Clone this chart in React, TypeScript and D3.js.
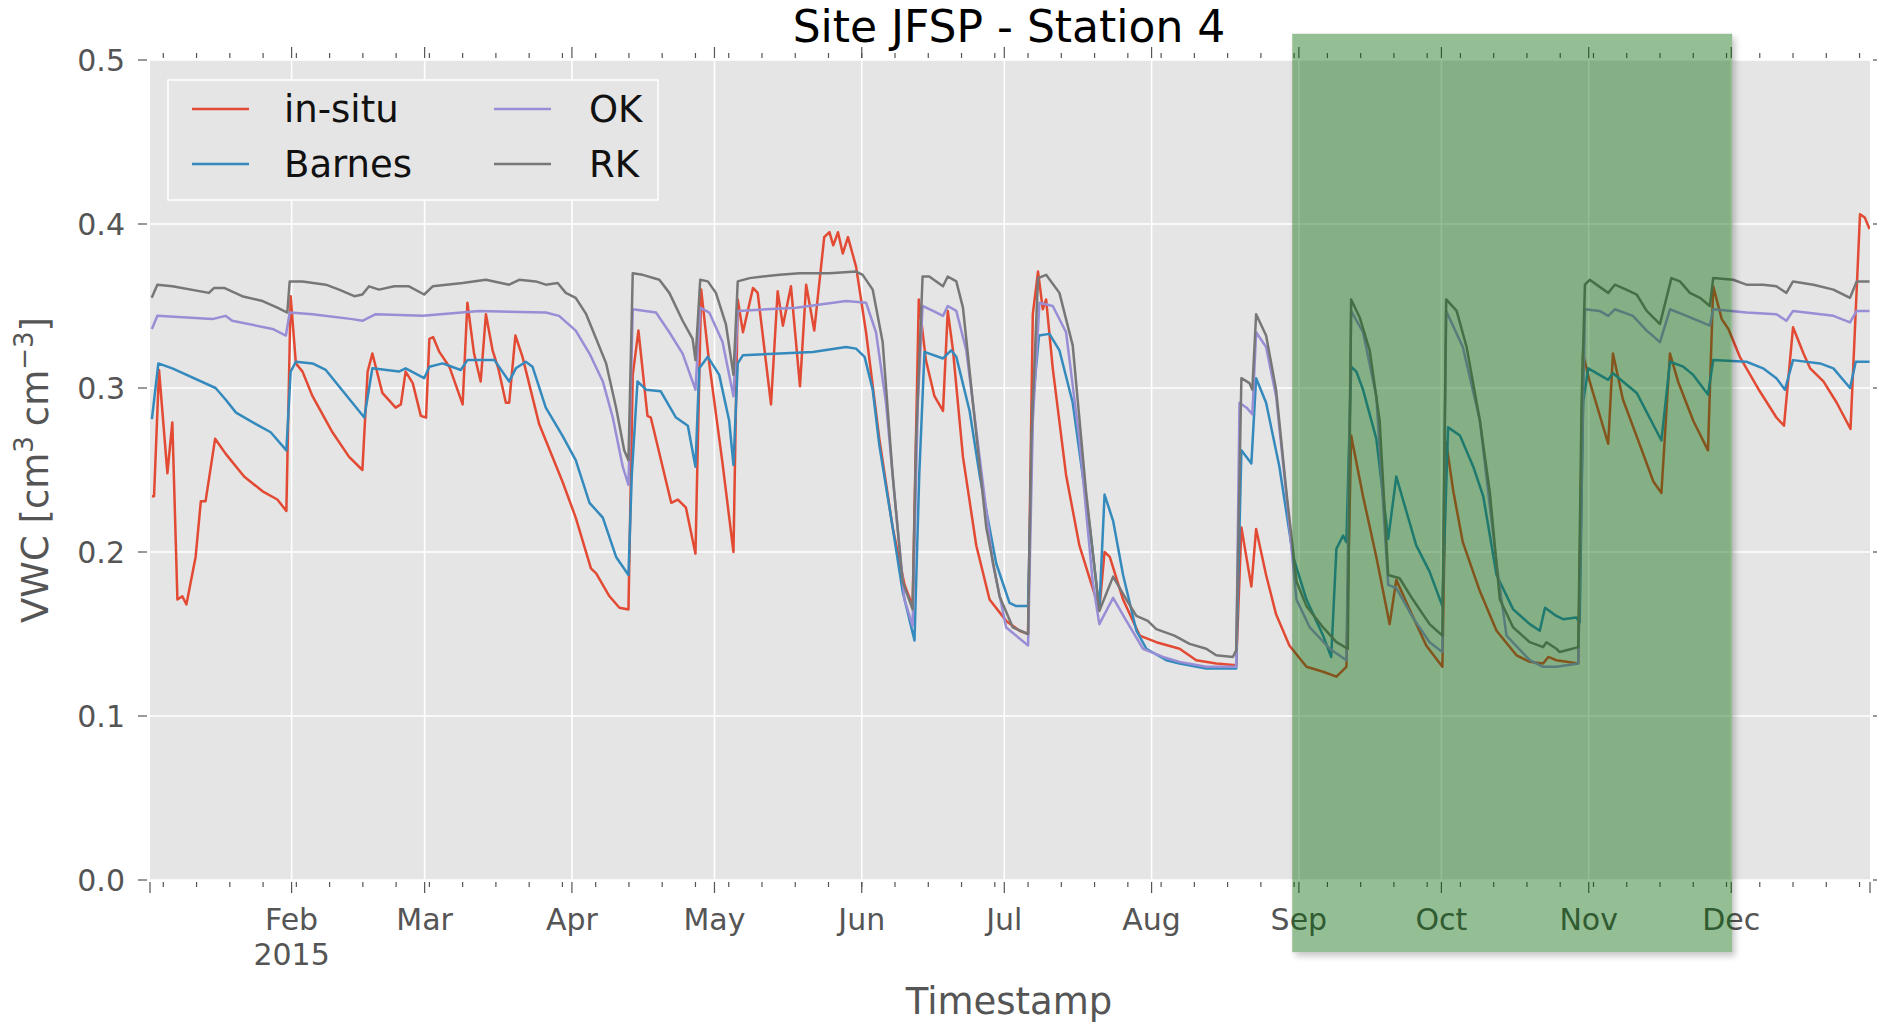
import * as d3 from "d3"

const YEAR_START = Date.UTC(2015, 0, 1)
const day = (d: number) => new Date(YEAR_START + d * 864e5)

// [day of year (0 = 1 Jan 2015), VWC]
const inSitu: [number, number][] = [
  [1.6, 0.234], [2.05, 0.234], [3.1, 0.311], [4.86, 0.248], [5.9, 0.279], [6.97, 0.171], [8, 0.173], [8.86, 0.168],
  [10.8, 0.197], [11.9, 0.231], [12.9, 0.231], [14.9, 0.269], [17.1, 0.26], [21, 0.246], [24.9, 0.237], [28, 0.232],
  [29.9, 0.225], [30.8, 0.356], [31.9, 0.315], [33.3, 0.31], [35.4, 0.295], [39.6, 0.273], [43.1, 0.258], [45.9, 0.25],
  [47, 0.31], [48, 0.321], [50.1, 0.297], [52.9, 0.288], [54, 0.29], [55, 0.31], [56.5, 0.303], [58.2, 0.283],
  [59.3, 0.282], [60, 0.33], [60.8, 0.331], [62.1, 0.322], [64.2, 0.313], [67, 0.29], [68, 0.352], [69.4, 0.321],
  [70.8, 0.304], [71.9, 0.345], [73.3, 0.323], [74.5, 0.312], [76.1, 0.291], [76.8, 0.291], [78.1, 0.332], [79.6, 0.319],
  [83.1, 0.278], [88, 0.243], [90.8, 0.221], [94, 0.19], [95.1, 0.187], [97.9, 0.173], [100, 0.166], [101.9, 0.165],
  [102.8, 0.308], [104, 0.335], [105.9, 0.283], [106.6, 0.282], [110.9, 0.23], [112.3, 0.232], [114, 0.227], [116, 0.199],
  [117.2, 0.36], [118.9, 0.315], [121.7, 0.254], [124, 0.2], [124.9, 0.354], [126, 0.334], [128.1, 0.361], [129.1, 0.358],
  [131.9, 0.29], [133.3, 0.359], [134.4, 0.338], [136.1, 0.362], [138, 0.301], [139.3, 0.363], [141, 0.335], [143.1, 0.392],
  [144.2, 0.395], [145, 0.387], [146, 0.395], [147, 0.382], [148.1, 0.392], [149.8, 0.374], [151.9, 0.334], [154.7, 0.269],
  [157.5, 0.215], [160, 0.18], [161.7, 0.167], [163, 0.354], [164.5, 0.317], [166.3, 0.295], [168.1, 0.286], [169.1, 0.347],
  [170.2, 0.323], [172.3, 0.258], [175.1, 0.204], [177.9, 0.171], [181.4, 0.158], [184.2, 0.152], [186, 0.15], [187, 0.345],
  [188.1, 0.371], [189.1, 0.348], [189.8, 0.354], [191.2, 0.312], [194, 0.247], [196.8, 0.204], [199.6, 0.178], [201, 0.165],
  [202.1, 0.2], [203.2, 0.197], [206, 0.171], [209.5, 0.149], [213, 0.145], [217.9, 0.141], [221.4, 0.134], [225.6, 0.132],
  [229.8, 0.131], [230.9, 0.215], [233, 0.179], [234, 0.214], [236.1, 0.186], [238.2, 0.162], [241, 0.143], [244.6, 0.13],
  [248.1, 0.127], [250.9, 0.124], [253, 0.13], [254, 0.271], [256.5, 0.234], [259.3, 0.197], [262.1, 0.156], [263.5, 0.183],
  [266.3, 0.165], [269.8, 0.143], [273.2, 0.13], [274, 0.267], [275.5, 0.237], [277.5, 0.206], [281.1, 0.176], [284.6, 0.152],
  [288.8, 0.137], [291.6, 0.133], [294.4, 0.132], [295.5, 0.136], [297.2, 0.134], [301.8, 0.132], [302.8, 0.321], [304.2, 0.304],
  [308.1, 0.266], [309.1, 0.321], [311.2, 0.293], [314.8, 0.265], [317.6, 0.243], [319.3, 0.236], [321.1, 0.321], [322.8, 0.304],
  [326, 0.28], [329.1, 0.262], [330.2, 0.362], [332, 0.342], [333.4, 0.336], [335.8, 0.319], [340, 0.298], [343.5, 0.282],
  [345.1, 0.277], [347, 0.337], [349.2, 0.321], [350.6, 0.312], [353.4, 0.304], [356.2, 0.291], [359.1, 0.275], [361.1, 0.406],
  [362.1, 0.404], [363.1, 0.397],
]

const barnes: [number, number][] = [
  [1.6, 0.281], [2.96, 0.315], [5.9, 0.312], [15, 0.3], [17.1, 0.293], [19.3, 0.285], [23.5, 0.278], [26.6, 0.273],
  [29.9, 0.262], [30.8, 0.31], [31.9, 0.316], [35.4, 0.315], [38.2, 0.311], [46.3, 0.282], [48, 0.312], [53.6, 0.31],
  [55, 0.312], [58.9, 0.306], [60, 0.313], [62.8, 0.315], [66.6, 0.311], [68, 0.317], [73.7, 0.317], [76.8, 0.304],
  [78.2, 0.312], [80.3, 0.316], [81.7, 0.313], [84.5, 0.288], [88, 0.271], [90.8, 0.256], [93.7, 0.23], [96.5, 0.221],
  [99.3, 0.197], [101.9, 0.186], [102.6, 0.247], [103.8, 0.304], [105.6, 0.299], [108.7, 0.298], [111.9, 0.282], [114.4, 0.277],
  [116, 0.252], [116.8, 0.312], [118.6, 0.319], [121, 0.308], [123.1, 0.28], [124, 0.253], [124.9, 0.315], [126, 0.32],
  [133.7, 0.321], [140.7, 0.322], [147.7, 0.325], [149.8, 0.324], [151.6, 0.319], [153.3, 0.299], [154.7, 0.265], [157.5, 0.215],
  [159.6, 0.176], [162.1, 0.146], [163.1, 0.247], [164.2, 0.322], [168.1, 0.318], [169.8, 0.323], [170.9, 0.319], [173.7, 0.286],
  [175.8, 0.247], [179.3, 0.193], [182.1, 0.169], [183.5, 0.167], [186, 0.167], [187, 0.291], [188.3, 0.332], [190.5, 0.333],
  [192.6, 0.323], [195.4, 0.291], [199, 0.215], [201, 0.165], [202.1, 0.235], [203.9, 0.219], [206, 0.186], [208.8, 0.152],
  [210.9, 0.141], [215.1, 0.134], [217.9, 0.132], [223.5, 0.129], [229.8, 0.129], [230.9, 0.262], [233, 0.254], [234, 0.306],
  [236.1, 0.291], [238.9, 0.252], [241.8, 0.197], [244.6, 0.171], [248.1, 0.149], [249.8, 0.136], [250.9, 0.202], [252.3, 0.21],
  [253, 0.206], [254, 0.313], [255.1, 0.31], [256.5, 0.299], [259.3, 0.269], [261.8, 0.208], [263.5, 0.246], [265.6, 0.225],
  [267.7, 0.204], [270.5, 0.188], [273.2, 0.167], [274.4, 0.276], [276.9, 0.271], [279.7, 0.252], [281.8, 0.234], [284.6, 0.186],
  [288.1, 0.165], [291.6, 0.156], [293.7, 0.152], [294.8, 0.166], [297.2, 0.161], [298.6, 0.159], [301.4, 0.16], [302.1, 0.157],
  [302.8, 0.291], [303.9, 0.312], [308.1, 0.305], [309.1, 0.309], [314.1, 0.297], [319.3, 0.268], [321.1, 0.316], [323.9, 0.313],
  [326, 0.308], [329.1, 0.296], [330.2, 0.317], [337.2, 0.316], [340.7, 0.312], [343.5, 0.306], [345.3, 0.299], [347, 0.317],
  [352.7, 0.315], [355.5, 0.312], [359, 0.3], [360.2, 0.316], [363.1, 0.316],
]

const ok: [number, number][] = [
  [1.6, 0.336], [2.75, 0.344], [14.3, 0.342], [17.1, 0.344], [18.5, 0.341], [27, 0.336], [29.8, 0.332], [30.6, 0.346],
  [35.4, 0.345], [43.8, 0.342], [45.9, 0.341], [48.7, 0.345], [58.6, 0.344], [70.5, 0.347], [84.5, 0.346], [87.3, 0.344],
  [90.8, 0.335], [93.7, 0.321], [96.5, 0.304], [98.6, 0.282], [100.7, 0.252], [101.9, 0.241], [102.8, 0.348], [107.7, 0.346],
  [110.5, 0.334], [113.3, 0.321], [116, 0.299], [117, 0.349], [118.9, 0.346], [121.7, 0.328], [124, 0.295], [124.9, 0.347],
  [137.2, 0.349], [147.7, 0.353], [151.9, 0.352], [154, 0.334], [156.1, 0.291], [158.2, 0.225], [160, 0.171], [161.7, 0.155],
  [162.8, 0.291], [163.8, 0.35], [166, 0.347], [168.1, 0.344], [169.1, 0.35], [170.9, 0.347], [173, 0.323], [175.8, 0.258],
  [178.6, 0.193], [181.4, 0.154], [186, 0.143], [187, 0.28], [188.4, 0.352], [191.2, 0.35], [194, 0.334], [196.8, 0.269],
  [199.6, 0.182], [201, 0.156], [203.9, 0.172], [206.7, 0.158], [210.2, 0.141], [214.4, 0.136], [217.9, 0.133], [223.5, 0.13],
  [229.8, 0.13], [230.5, 0.291], [232, 0.288], [233.2, 0.284], [234, 0.334], [236.1, 0.325], [238.2, 0.295], [240.4, 0.234],
  [242.5, 0.171], [245.3, 0.154], [249.5, 0.141], [253, 0.134], [254, 0.347], [256.5, 0.334], [259.3, 0.295], [261.8, 0.18],
  [263.5, 0.178], [267, 0.16], [270.5, 0.145], [273.2, 0.139], [274, 0.347], [277.5, 0.325], [281.1, 0.28], [284.6, 0.193],
  [286.7, 0.149], [291.6, 0.134], [294.4, 0.13], [297.2, 0.13], [301.8, 0.132], [303.2, 0.348], [306.3, 0.347], [308.1, 0.344],
  [309.5, 0.348], [313.3, 0.344], [316.2, 0.335], [319, 0.328], [321.1, 0.348], [324.6, 0.344], [329.5, 0.338], [330.2, 0.348],
  [337.2, 0.346], [343.5, 0.345], [345.6, 0.341], [347, 0.347], [355.5, 0.344], [359, 0.34], [360.4, 0.347], [363.1, 0.347],
]

const rk: [number, number][] = [
  [1.56, 0.355], [2.75, 0.363], [5.9, 0.362], [13.6, 0.358], [14.7, 0.361], [16.8, 0.361], [20.6, 0.356], [24.9, 0.353],
  [28, 0.349], [30.1, 0.346], [30.6, 0.365], [33.3, 0.365], [38.2, 0.363], [41, 0.36], [44.2, 0.356], [45.9, 0.357],
  [47.3, 0.362], [49.4, 0.36], [52.6, 0.362], [55.7, 0.362], [58.9, 0.357], [60.7, 0.362], [67, 0.364], [71.9, 0.366],
  [76.8, 0.363], [78.9, 0.366], [82.4, 0.365], [84.5, 0.363], [87, 0.364], [88.7, 0.358], [90.8, 0.355], [93, 0.345],
  [95.1, 0.33], [97.2, 0.315], [99.3, 0.288], [101, 0.262], [101.9, 0.256], [102.8, 0.37], [104.9, 0.369], [108.4, 0.366],
  [110.5, 0.358], [113.3, 0.341], [115.4, 0.33], [116, 0.317], [117, 0.366], [118.6, 0.365], [120.3, 0.358], [122.4, 0.339],
  [124, 0.308], [124.9, 0.365], [127.4, 0.367], [130.2, 0.368], [133.7, 0.369], [137.9, 0.37], [144.2, 0.37], [149.8, 0.371],
  [151.2, 0.369], [153.3, 0.36], [155.4, 0.328], [157.5, 0.247], [159.6, 0.182], [161.7, 0.165], [162.4, 0.265], [163.8, 0.368],
  [165.2, 0.368], [168.1, 0.362], [169.1, 0.368], [170.9, 0.365], [172.3, 0.349], [174.4, 0.291], [177.2, 0.215], [180, 0.173],
  [182.8, 0.154], [186, 0.15], [186.7, 0.269], [188.1, 0.367], [189.8, 0.369], [192.6, 0.358], [195.4, 0.326], [198.2, 0.237],
  [201, 0.164], [203.9, 0.185], [206.7, 0.171], [208.8, 0.161], [211.2, 0.158], [213, 0.153], [216.8, 0.149], [220, 0.144],
  [223.5, 0.141], [225.6, 0.137], [229.1, 0.136], [229.8, 0.14], [230.9, 0.306], [232.6, 0.303], [233.2, 0.299], [234, 0.345],
  [236.1, 0.332], [238.2, 0.299], [240.4, 0.236], [242.5, 0.182], [244.6, 0.167], [248.1, 0.154], [250.9, 0.145], [253.3, 0.141],
  [254, 0.354], [255.8, 0.343], [257.9, 0.323], [260, 0.28], [261.8, 0.186], [264.2, 0.184], [267, 0.171], [270.5, 0.156],
  [273.2, 0.149], [274, 0.354], [276.2, 0.347], [278.3, 0.325], [281.1, 0.28], [283.2, 0.236], [285.3, 0.171], [288.1, 0.154],
  [291.6, 0.145], [294.4, 0.142], [295.1, 0.145], [297.2, 0.141], [297.9, 0.139], [301.8, 0.142], [302.5, 0.291], [303.2, 0.363],
  [304.2, 0.366], [308.1, 0.358], [309.5, 0.363], [311.9, 0.36], [314.1, 0.357], [316.2, 0.347], [319, 0.339], [321.4, 0.367],
  [323.2, 0.365], [325.3, 0.358], [327.4, 0.355], [329.5, 0.35], [330.2, 0.367], [334.4, 0.366], [337.2, 0.363], [340.7, 0.363],
  [343.5, 0.362], [345.6, 0.358], [347, 0.365], [351.3, 0.363], [355.5, 0.36], [359, 0.355], [360.4, 0.365], [363.1, 0.365],
]

const seriesNames = ["in-situ", "Barnes", "OK", "RK"]
const seriesData = [inSitu, barnes, ok, rk]
const yTicks = [0, 0.1, 0.2, 0.3, 0.4, 0.5]
const xExtent = [1.2, 363.2] // days shown on the axis
const highlightDays = [241.6, 334.2]
const highlightVwc = [-0.044, 0.516]

const colors = ["#E24A33", "#348ABD", "#988ED5", "#777777"]
const W = 1877
const H = 1026
const FONT = "'DejaVu Sans', sans-serif"

export default function App() {
  const m = { l: 150, r: 1870, t: 60, b: 880 }

  const x = d3.scaleUtc().domain(xExtent.map(day)).range([m.l, m.r])
  const y = d3.scaleLinear().domain([0, 0.5]).range([m.b, m.t])

  const line = d3
    .line<[number, number]>()
    .x((d) => x(day(d[0])))
    .y((d) => y(d[1]))

  const months = d3.utcMonth.range(day(xExtent[0]), day(xExtent[1]))
  const mondays = d3.utcMonday.range(day(xExtent[0]), day(xExtent[1]))
  const fmt = d3.utcFormat("%b")

  const hx0 = x(day(highlightDays[0]))
  const hx1 = x(day(highlightDays[1]))
  const hy0 = y(highlightVwc[1])
  const hy1 = y(highlightVwc[0])

  // legend, 2 columns filled top to bottom
  const legend = seriesNames.map((name, i) => ({
    name,
    color: colors[i],
    col: Math.floor(i / 2),
    row: i % 2,
  }))
  const colX = [192, 494]
  const textX = [284, 589]
  const rowY = [109, 164]

  return (
    <svg
      width={W}
      height={H}
      viewBox={`0 0 ${W} ${H}`}
      style={{ position: "absolute", left: 0, top: 0, background: "#fff" }}
      fontFamily={FONT}
    >
      <defs>
        <clipPath id="plot">
          <rect x={m.l} y={m.t} width={m.r - m.l} height={m.b - m.t} />
        </clipPath>
        <clipPath id="outsideBand">
          <path
            clipRule="evenodd"
            d={`M0,0H${W}V${H}H0Z M${hx0},${hy0}H${hx1}V${hy1}H${hx0}Z`}
          />
        </clipPath>
        <filter id="blur" x="-10%" y="-10%" width="120%" height="120%">
          <feGaussianBlur stdDeviation="3" />
        </filter>
      </defs>

      <rect x={m.l} y={m.t} width={m.r - m.l} height={m.b - m.t} fill="#E5E5E5" />

      {/* grid */}
      {months.map((d) => (
        <line key={+d} x1={x(d)} x2={x(d)} y1={m.t} y2={m.b} stroke="#fff" strokeWidth={1.6} />
      ))}
      {yTicks.map((t) => (
        <line key={t} x1={m.l} x2={m.r} y1={y(t)} y2={y(t)} stroke="#fff" strokeWidth={1.6} />
      ))}

      {/* series */}
      <g clipPath="url(#plot)" fill="none" strokeWidth={2.5} strokeLinejoin="round">
        {seriesData.map((s, i) => (
          <path key={seriesNames[i]} d={line(s) ?? ""} stroke={colors[i]} />
        ))}
      </g>

      {/* x ticks, bottom and top */}
      <g stroke="#555" strokeWidth={1.2}>
        {mondays.map((d) => (
          <g key={+d}>
            <line x1={x(d)} x2={x(d)} y1={m.b + 2} y2={m.b + 7} />
            <line x1={x(d)} x2={x(d)} y1={m.t - 2} y2={m.t - 7} />
          </g>
        ))}
        {months.map((d) => (
          <g key={+d}>
            <line x1={x(d)} x2={x(d)} y1={m.b + 2} y2={m.b + 13} />
            <line x1={x(d)} x2={x(d)} y1={m.t - 2} y2={m.t - 13} />
          </g>
        ))}
        <line x1={m.l} x2={m.l} y1={m.b + 2} y2={m.b + 13} />
        <line x1={m.r} x2={m.r} y1={m.b + 2} y2={m.b + 13} />
        {yTicks.map((t) => (
          <g key={t}>
            <line x1={m.l - 3} x2={m.l - 12} y1={y(t)} y2={y(t)} />
            <line x1={m.r + 3} x2={m.r + 12} y1={y(t)} y2={y(t)} />
          </g>
        ))}
      </g>

      <g fill="#555" fontSize={30} textAnchor="middle">
        {months.map((d, i) => (
          <text key={+d} x={x(d)} y={930}>
            {fmt(d)}
          </text>
        ))}
        <text x={x(months[0])} y={965}>
          {d3.utcFormat("%Y")(months[0])}
        </text>
      </g>
      <g fill="#555" fontSize={30} textAnchor="end">
        {yTicks.map((t) => (
          <text key={t} x={125} y={y(t)} dy="0.36em">
            {d3.format(".1f")(t)}
          </text>
        ))}
      </g>

      {/* legend */}
      <rect x={168} y={80} width={490} height={120} fill="#E5E5E5" stroke="#fff" strokeWidth={1.5} />
      {legend.map((l) => (
        <g key={l.name}>
          <line
            x1={colX[l.col]}
            x2={colX[l.col] + 57}
            y1={rowY[l.row]}
            y2={rowY[l.row]}
            stroke={l.color}
            strokeWidth={2.5}
          />
          <text x={textX[l.col]} y={rowY[l.row]} dy="0.36em" fontSize={37} fill="#111">
            {l.name}
          </text>
        </g>
      ))}

      {/* highlighted period */}
      <rect
        x={hx0 + 3}
        y={hy0 + 4}
        width={hx1 - hx0}
        height={hy1 - hy0}
        fill="#000"
        opacity={0.22}
        filter="url(#blur)"
        clipPath="url(#outsideBand)"
      />
      <rect x={hx0} y={hy0} width={hx1 - hx0} height={hy1 - hy0} fill="#006400" opacity={0.42} />

      {/* labels */}
      <text x={1009} y={42} fontSize={44} textAnchor="middle" fill="#000">
        Site JFSP - Station 4
      </text>
      <text x={1009} y={1014} fontSize={37} textAnchor="middle" fill="#555">
        Timestamp
      </text>
      <text
        transform={`translate(48,${470}) rotate(-90)`}
        fontSize={37}
        textAnchor="middle"
        fill="#555"
      >
        <tspan>VWC [cm</tspan>
        <tspan fontSize={26} dy={-15}>3</tspan>
        <tspan dy={15} dx={10}>cm</tspan>
        <tspan fontSize={26} dy={-15}>−3</tspan>
        <tspan dy={15}>]</tspan>
      </text>
    </svg>
  )
}
